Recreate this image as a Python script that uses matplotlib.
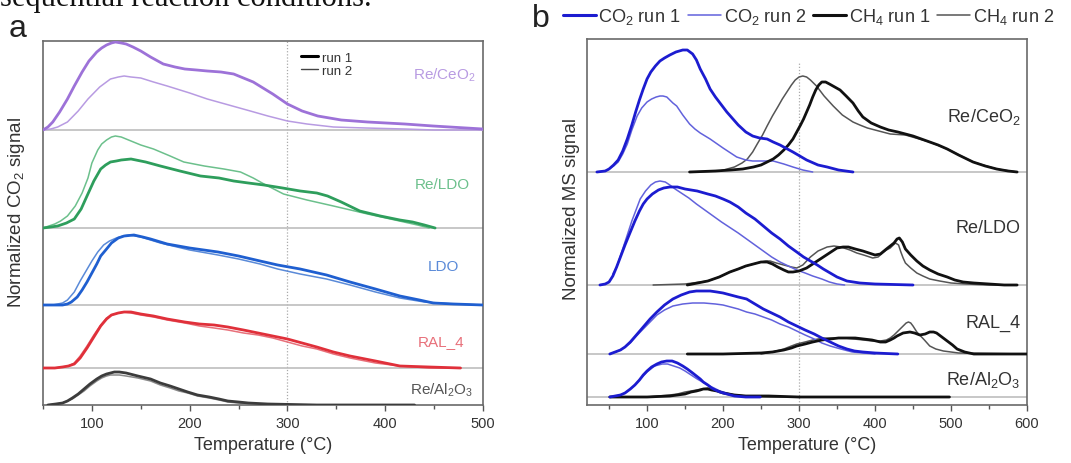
import numpy as np
import matplotlib
matplotlib.use("Agg")
import matplotlib.pyplot as plt

plt.rcParams['font.family'] = ['Liberation Sans', 'DejaVu Sans']
plt.rcParams['mathtext.default'] = 'regular'
plt.rcParams['lines.solid_joinstyle'] = 'round'
plt.rcParams['lines.solid_capstyle'] = 'round'

# ---------------- panel a : CO2 TPD, run 1 / run 2 ----------------
a_samples = ['Re/CeO$_2$', 'Re/LDO', 'LDO', 'RAL_4', 'Re/Al$_2$O$_3$']

a_ceo2_t1 = [50, 55, 60, 67, 75, 82, 90, 97, 105, 110, 115, 120, 124, 130, 135, 142, 150, 160, 173, 185, 195, 207, 218, 232, 245, 255, 265, 275, 285, 300, 315, 331, 355, 382, 420, 449, 500]
a_ceo2_s1 = [0, 3, 8, 18, 31, 44, 58, 69, 78, 82, 85, 87, 88, 87, 86, 83, 79, 73, 66, 63, 61, 60, 59, 58, 56, 52, 48, 42, 36, 26, 19, 14, 10, 8, 6, 4, 1]
a_ceo2_t2 = [50, 58, 65, 75, 86, 96, 108, 119, 127, 133, 140, 150, 163, 177, 200, 218, 240, 262, 280, 300, 320, 347, 380, 420, 450, 500]
a_ceo2_s2 = [0, 1, 3, 8, 19, 31, 43, 51, 53, 54, 53, 52, 48, 44, 37, 31, 25, 19, 14, 9, 6, 3, 2, 1, 0, 0]

a_reldo_t1 = [50, 58, 65, 74, 82, 89, 95, 102, 109, 114, 119, 125, 130, 140, 155, 170, 190, 211, 230, 245, 260, 276, 295, 313, 330, 341, 355, 374, 395, 415, 428, 440, 451]
a_reldo_s1 = [0, 1, 2, 5, 9, 19, 32, 47, 59, 63, 66, 67, 68, 69, 66, 62, 57, 52, 50, 47, 45, 43, 40, 37, 35, 32, 26, 17, 12, 8, 6, 3, 0]
a_reldo_t2 = [50, 56, 62, 68, 75, 83, 90, 96, 100, 106, 110, 115, 120, 124, 130, 135, 150, 163, 180, 194, 215, 235, 252, 265, 276, 296, 320, 347, 382, 410, 433, 445]
a_reldo_s2 = [0, 2, 4, 7, 12, 22, 35, 50, 65, 78, 84, 88, 91, 92, 91, 89, 83, 79, 72, 66, 62, 59, 56, 50, 44, 34, 28, 22, 14, 8, 3, 0]

a_ldo_t1 = [50, 70, 75, 79, 85, 90, 95, 100, 105, 109, 115, 120, 127, 133, 143, 152, 160, 177, 200, 229, 250, 272, 290, 313, 340, 364, 390, 415, 435, 449, 470, 500]
a_ldo_s1 = [0, 0, 1, 3, 8, 15, 23, 32, 41, 49, 56, 62, 67, 69, 70, 68, 66, 61, 57, 53, 49, 44, 40, 36, 30, 23, 16, 9, 5, 2, 1, 0]
a_ldo_t2 = [50, 60, 65, 70, 75, 82, 88, 94, 100, 106, 112, 118, 125, 132, 138, 150, 170, 200, 229, 250, 272, 290, 313, 340, 364, 390, 415, 440, 470, 500]
a_ldo_s2 = [0, 0, 1, 2, 5, 13, 24, 34, 44, 53, 60, 64, 67, 69, 70, 68, 62, 55, 50, 46, 41, 36, 31, 26, 20, 13, 7, 3, 1, 0]

a_ral_t = [50, 62, 70, 76, 82, 88, 95, 102, 109, 115, 120, 127, 133, 140, 150, 163, 177, 195, 210, 225, 239, 255, 270, 285, 300, 315, 330, 347, 364, 390, 415, 445, 477]
a_ral_s1 = [0, 0, 1, 2, 4, 10, 20, 31, 42, 49, 53, 55, 56, 56, 54, 52, 49, 46, 44, 43, 41, 38, 35, 32, 29, 25, 21, 16, 12, 7, 2, 1, 0]
a_ral_s2 = [0, 0, 1, 2, 5, 12, 22, 33, 43, 50, 53, 55, 56, 55, 53, 51, 48, 45, 42, 40, 38, 35, 33, 30, 26, 22, 19, 14, 10, 5, 2, 0, 0]

a_al_t = [55, 63, 70, 75, 80, 86, 92, 98, 105, 110, 115, 119, 123, 128, 135, 147, 160, 170, 180, 189, 198, 208, 220, 230, 239, 250, 260, 280, 330, 430]
a_al_s1 = [0, 1, 2, 4, 7, 11, 16, 21, 26, 29, 31, 32, 33, 33, 32, 29, 26, 22, 19, 16, 13, 10, 8, 6, 4, 3, 2, 1, 0, 0]
a_al_s2 = [0, 1, 2, 4, 6, 10, 14, 19, 24, 27, 29, 30, 30, 30, 29, 27, 24, 20, 17, 14, 12, 9, 7, 5, 3, 2, 1, 0, 0, 0]

# ---------------- panel b : CO2 / CH4 MS signals ----------------
b_samples = ['Re/CeO$_2$', 'Re/LDO', 'RAL_4', 'Re/Al$_2$O$_3$']

b_ceo2_co2_t1 = [34, 45, 50, 56, 62, 68, 74, 80, 85, 90, 95, 100, 105, 111, 117, 123, 130, 138, 147, 153, 160, 165, 170, 177, 183, 190, 195, 205, 220, 230, 239, 248, 258, 266, 275, 292, 310, 325, 337, 352, 371]
b_ceo2_co2_s1 = [0, 1, 3, 7, 12, 21, 33, 47, 60, 72, 83, 93, 100, 106, 111, 114, 117, 120, 122, 122, 118, 112, 103, 93, 83, 75, 70, 60, 47, 40, 36, 34, 33, 30, 27, 20, 12, 7, 5, 2, 0]
b_ceo2_co2_t2 = [34, 45, 50, 56, 62, 68, 74, 80, 87, 93, 100, 106, 112, 117, 121, 126, 130, 134, 139, 147, 156, 163, 170, 183, 200, 218, 230, 239, 252, 266, 280, 292, 305, 318]
b_ceo2_co2_s2 = [0, 1, 3, 6, 10, 18, 28, 42, 56, 64, 70, 73, 75, 76, 76, 75, 72, 69, 66, 57, 48, 43, 39, 33, 24, 15, 12, 11, 11, 11, 8, 5, 2, 0]
b_ceo2_ch4_t1 = [156, 190, 210, 226, 240, 250, 258, 266, 273, 280, 286, 292, 297, 302, 306, 310, 314, 318, 322, 326, 330, 335, 340, 347, 354, 362, 371, 378, 384, 395, 407, 418, 430, 440, 450, 461, 472, 483, 495, 510, 529, 545, 560, 575, 587]
b_ceo2_ch4_s1 = [0, 1, 2, 3, 5, 7, 10, 13, 17, 22, 27, 33, 40, 47, 53, 60, 67, 75, 82, 87, 90, 90, 88, 85, 82, 76, 69, 61, 55, 49, 45, 42, 40, 38, 36, 33, 30, 27, 23, 17, 10, 6, 3, 1, 0]
b_ceo2_ch4_t2 = [156, 196, 215, 225, 232, 239, 245, 252, 258, 265, 272, 278, 284, 290, 295, 300, 305, 310, 315, 323, 333, 345, 357, 371, 380, 390, 405, 420, 440, 472, 495, 529, 560, 587]
b_ceo2_ch4_s2 = [0, 1, 5, 9, 13, 20, 28, 37, 46, 56, 65, 73, 80, 87, 92, 95, 96, 95, 92, 86, 76, 66, 57, 50, 47, 44, 41, 38, 37, 30, 23, 10, 3, 0]

b_reldo_co2_t1 = [38, 45, 50, 55, 60, 65, 71, 78, 84, 90, 95, 100, 107, 115, 122, 130, 140, 150, 166, 180, 190, 200, 209, 220, 230, 242, 253, 264, 275, 286, 297, 306, 315, 324, 332, 341, 350, 363, 380, 400, 450]
b_reldo_co2_s1 = [0, 1, 3, 9, 18, 28, 40, 53, 64, 74, 81, 86, 91, 95, 97, 98, 98, 96, 94, 91, 89, 86, 83, 78, 72, 66, 59, 52, 46, 39, 33, 28, 24, 20, 16, 12, 8, 4, 2, 1, 0]
b_reldo_co2_t2 = [55, 60, 64, 68, 74, 80, 86, 91, 98, 105, 111, 117, 124, 130, 137, 143, 155, 165, 176, 187, 198, 210, 220, 231, 242, 253, 264, 275, 286, 297, 308, 318, 330, 340, 350, 360]
b_reldo_co2_s2 = [11, 18, 27, 36, 50, 64, 76, 86, 94, 100, 103, 104, 103, 100, 96, 93, 87, 81, 75, 69, 63, 57, 52, 46, 40, 34, 28, 23, 19, 15, 12, 9, 6, 3, 1, 0]
b_reldo_ch4_t1 = [153, 180, 195, 209, 220, 230, 240, 250, 258, 265, 272, 280, 286, 292, 300, 310, 320, 330, 340, 350, 358, 365, 374, 384, 392, 400, 407, 415, 420, 425, 429, 432, 436, 440, 447, 455, 463, 472, 483, 495, 505, 516, 530, 550, 570, 587]
b_reldo_ch4_s1 = [0, 4, 8, 13, 16, 19, 21, 23, 23, 21, 18, 15, 13, 13, 14, 17, 22, 27, 32, 37, 38, 38, 36, 34, 32, 30, 31, 36, 39, 42, 46, 47, 43, 36, 30, 24, 19, 15, 11, 8, 5, 3, 2, 1, 0, 0]
b_reldo_ch4_t2 = [108, 150, 180, 195, 209, 220, 230, 240, 250, 256, 262, 270, 280, 290, 297, 305, 315, 325, 337, 346, 355, 367, 376, 385, 397, 404, 410, 415, 420, 424, 427, 431, 434, 437, 440, 447, 455, 463, 472, 485, 500, 520, 550, 587]
b_reldo_ch4_s2 = [0, 1, 4, 8, 13, 16, 19, 21, 23, 24, 24, 22, 20, 18, 17, 20, 28, 34, 38, 39, 38, 35, 32, 30, 27, 28, 32, 35, 37, 40, 42, 40, 33, 27, 22, 17, 12, 9, 6, 4, 2, 1, 0, 0]

b_ral_co2_t1 = [51, 58, 65, 71, 78, 86, 95, 104, 113, 123, 134, 145, 156, 165, 175, 183, 192, 200, 210, 220, 231, 242, 253, 264, 275, 286, 297, 308, 320, 330, 341, 352, 363, 373, 384, 400, 430]
b_ral_co2_s1 = [0, 2, 4, 7, 12, 19, 27, 35, 42, 49, 55, 59, 62, 63, 63, 63, 62, 61, 59, 57, 55, 50, 45, 41, 37, 32, 28, 24, 20, 16, 12, 8, 5, 3, 2, 1, 0]
b_ral_co2_t2 = [51, 58, 65, 71, 78, 86, 95, 104, 113, 123, 134, 147, 160, 175, 190, 200, 210, 220, 231, 242, 253, 264, 275, 286, 297, 308, 320, 330, 341, 355, 370, 385, 400]
b_ral_co2_s2 = [0, 2, 4, 7, 11, 18, 25, 32, 39, 44, 48, 50, 51, 51, 50, 49, 47, 45, 42, 40, 37, 34, 30, 27, 23, 19, 15, 11, 8, 5, 2, 1, 0]
b_ral_ch4_t1 = [153, 200, 250, 265, 280, 290, 297, 308, 318, 330, 341, 352, 363, 374, 385, 396, 407, 414, 420, 425, 429, 437, 446, 452, 459, 466, 472, 477, 481, 488, 495, 502, 508, 518, 530, 600]
b_ral_ch4_s1 = [0, 0, 1, 2, 4, 6, 8, 10, 12, 14, 15, 16, 16, 16, 15, 14, 12, 12, 14, 16, 18, 21, 22, 21, 19, 20, 22, 22, 21, 17, 13, 9, 5, 2, 0, 0]
b_ral_ch4_t2 = [250, 265, 280, 290, 297, 308, 318, 332, 345, 360, 372, 385, 396, 407, 415, 420, 425, 429, 433, 437, 441, 444, 447, 450, 455, 460, 465, 472, 480, 490, 500, 510, 600]
b_ral_ch4_s2 = [0, 2, 5, 8, 10, 12, 14, 16, 16, 16, 15, 14, 13, 13, 14, 16, 19, 22, 25, 28, 31, 32, 31, 28, 22, 18, 14, 8, 5, 3, 2, 1, 0]

b_al_co2_t1 = [51, 58, 65, 71, 78, 84, 90, 95, 100, 106, 113, 119, 126, 133, 140, 147, 153, 160, 165, 170, 174, 180, 185, 190, 196, 205, 215, 230, 249]
b_al_co2_s1 = [0, 1, 2, 4, 8, 12, 17, 22, 26, 30, 33, 35, 36, 36, 34, 31, 28, 24, 21, 18, 15, 12, 9, 7, 5, 3, 1, 0, 0]
b_al_co2_t2 = [51, 58, 65, 71, 78, 84, 90, 95, 100, 105, 110, 115, 120, 127, 135, 143, 150, 158, 166, 173, 180, 188, 196, 205, 215, 230, 250]
b_al_co2_s2 = [0, 1, 2, 4, 8, 12, 17, 21, 25, 28, 31, 32, 33, 33, 31, 29, 26, 22, 18, 15, 12, 9, 6, 4, 2, 1, 0]
b_al_ch4_t1 = [51, 100, 130, 140, 150, 158, 165, 170, 174, 180, 185, 192, 200, 215, 230, 260, 300, 400, 498]
b_al_ch4_s1 = [0, 0, 1, 2, 3, 5, 6, 7, 8, 8, 7, 6, 4, 2, 1, 1, 0, 0, 0]
b_al_ch4_t2 = [51, 100, 130, 140, 150, 158, 165, 172, 180, 185, 190, 197, 205, 215, 230, 260, 300]
b_al_ch4_s2 = [0, 0, 2, 3, 5, 6, 7, 8, 9, 8, 7, 5, 3, 2, 1, 0, 0]

W, H = 1071, 464
fig = plt.figure(figsize=(W / 100, H / 100), dpi=100)


def frac(x0, y0, x1, y1):
    # pixel box -> figure fraction [left, bottom, width, height]
    return [x0 / W, 1 - y1 / H, (x1 - x0) / W, (y1 - y0) / H]


def style_axis(ax, xlim, ylim, xticks):
    ax.set_xlim(*xlim)
    ax.set_ylim(*ylim)
    ax.set_yticks([])
    ax.set_xticks(xticks)
    ax.set_xticks(np.arange(50, xlim[1] + 1, 100), minor=True)
    ax.tick_params(axis='x', which='major', direction='out', length=4, width=1,
                   color='#555555', labelsize=10.5, labelcolor='#333333', pad=4)
    ax.tick_params(axis='x', which='minor', direction='out', length=3, width=1,
                   color='#555555')
    for sp in ax.spines.values():
        sp.set_color('#6a6a6a')
        sp.set_linewidth(1.2)
    ax.set_xlabel('Temperature (°C)', fontsize=13, color='#333333', labelpad=4)


# panel a
axa = fig.add_axes(frac(43, 42, 483, 406))
style_axis(axa, (50, 500), (0, 364), [100, 200, 300, 400, 500])
a_offsets = [275, 177, 100, 37, 0]
a_colors = [('#9d72d8', '#b89be2'), ('#2e9e5c', '#6cc08c'), ('#1f5fd0', '#5a8ad8'),
            ('#e0303a', '#e8707a'), ('#3c3c3c', '#8a8a8a')]
a_curves = [
    (a_ceo2_t1, a_ceo2_s1, a_ceo2_t2, a_ceo2_s2),
    (a_reldo_t1, a_reldo_s1, a_reldo_t2, a_reldo_s2),
    (a_ldo_t1, a_ldo_s1, a_ldo_t2, a_ldo_s2),
    (a_ral_t, a_ral_s1, a_ral_t, a_ral_s2),
    (a_al_t, a_al_s1, a_al_t, a_al_s2),
]
a_label_y = [75, 185, 267, 342, 390]
a_label_x = [492, 487, 476, 481, 490]
axa.axvline(300, color='#aaaaaa', lw=0.9, ls=(0, (1, 1.5)), zorder=1)
for off, (c1, c2), (t1, s1, t2, s2), name, ly, lx in zip(a_offsets, a_colors, a_curves,
                                                         a_samples, a_label_y, a_label_x):
    if off > 0:
        axa.axhline(off, color='#bdbdbd', lw=1.2, zorder=1)
    axa.plot(t2, np.array(s2) + off, color=c2, lw=1.1, zorder=3)
    axa.plot(t1, np.array(s1) + off, color=c1, lw=2.0, zorder=4)
    axa.text(lx, 406 - ly, name, color=c2 if off != 0 else '#555555', fontsize=11,
             ha='right', va='center')

# run legend
la = axa.legend(handles=[plt.Line2D([], [], color='black', lw=2.2),
                         plt.Line2D([], [], color='#444444', lw=1.0)],
                labels=['run 1', 'run 2'], loc='upper left', bbox_to_anchor=(0.575, 0.985),
                frameon=False, fontsize=9.5, handlelength=1.3, handletextpad=0.25,
                labelspacing=0.05, borderaxespad=0)
for txt in la.get_texts():
    txt.set_color('#333333')

axa.set_ylabel('Normalized CO$_2$ signal', fontsize=13.5, color='#333333')
axa.yaxis.set_label_coords(-0.037, 0.533)
fig.text(9 / W, 1 - 37 / H, 'a', fontsize=23, color='#222222', va='baseline')

# panel b
axb = fig.add_axes(frac(587, 40, 1027, 406))
style_axis(axb, (21, 600), (0, 366), [100, 200, 300, 400, 500, 600])
b_offsets = [233, 120, 51, 8]
b_curves = [
    (b_ceo2_co2_t1, b_ceo2_co2_s1, b_ceo2_co2_t2, b_ceo2_co2_s2,
     b_ceo2_ch4_t1, b_ceo2_ch4_s1, b_ceo2_ch4_t2, b_ceo2_ch4_s2),
    (b_reldo_co2_t1, b_reldo_co2_s1, b_reldo_co2_t2, b_reldo_co2_s2,
     b_reldo_ch4_t1, b_reldo_ch4_s1, b_reldo_ch4_t2, b_reldo_ch4_s2),
    (b_ral_co2_t1, b_ral_co2_s1, b_ral_co2_t2, b_ral_co2_s2,
     b_ral_ch4_t1, b_ral_ch4_s1, b_ral_ch4_t2, b_ral_ch4_s2),
    (b_al_co2_t1, b_al_co2_s1, b_al_co2_t2, b_al_co2_s2,
     b_al_ch4_t1, b_al_ch4_s1, b_al_ch4_t2, b_al_ch4_s2),
]
b_label_y = [117, 229, 323, 380]
co2_c1, co2_c2 = '#1c1cd0', '#6262dc'
ch4_c1, ch4_c2 = '#111111', '#555555'
axb.plot([300, 300], [0, 343], color='#aaaaaa', lw=0.9, ls=(0, (1, 1.5)), zorder=1)
for off, cur, name, ly in zip(b_offsets, b_curves, b_samples, b_label_y):
    axb.axhline(off, color='#bdbdbd', lw=1.2, zorder=1)
    t1, s1, t2, s2, m1, n1, m2, n2 = cur
    axb.plot(m2, np.array(n2) + off, color=ch4_c2, lw=1.1, zorder=3)
    axb.plot(m1, np.array(n1) + off, color=ch4_c1, lw=2.0, zorder=4)
    axb.plot(t2, np.array(s2) + off, color=co2_c2, lw=1.1, zorder=3)
    axb.plot(t1, np.array(s1) + off, color=co2_c1, lw=2.0, zorder=4)
    axb.text(591, 406 - ly, name, color='#333333', fontsize=13, ha='right', va='center')

axb.set_ylabel('Normalized MS signal', fontsize=13.5, color='#333333')
axb.yaxis.set_label_coords(-0.016, 0.538)
fig.text(532 / W, 1 - 27 / H, 'b', fontsize=23, color='#222222', va='baseline')

handles = [plt.Line2D([], [], color=co2_c1, lw=2.2), plt.Line2D([], [], color=co2_c2, lw=1.1),
           plt.Line2D([], [], color=ch4_c1, lw=2.2), plt.Line2D([], [], color=ch4_c2, lw=1.1)]
labels = ['CO$_2$ run 1', 'CO$_2$ run 2', 'CH$_4$ run 1', 'CH$_4$ run 2']
lb = fig.legend(handles=handles, labels=labels, loc='center left',
                bbox_to_anchor=(563 / W, 1 - 17 / H), ncol=4, frameon=False,
                fontsize=13.1, handlelength=1.8, handletextpad=0.15, columnspacing=0.4,
                borderaxespad=0, borderpad=0)
for txt in lb.get_texts():
    txt.set_color('#333333')

# caption line running off the top edge
fig.text(0 / W, 1 - 6 / H, 'sequential reaction conditions.', family='Liberation Serif',
         fontsize=22, color='#111111', va='baseline', ha='left')

fig.savefig('out.png', dpi=100)
